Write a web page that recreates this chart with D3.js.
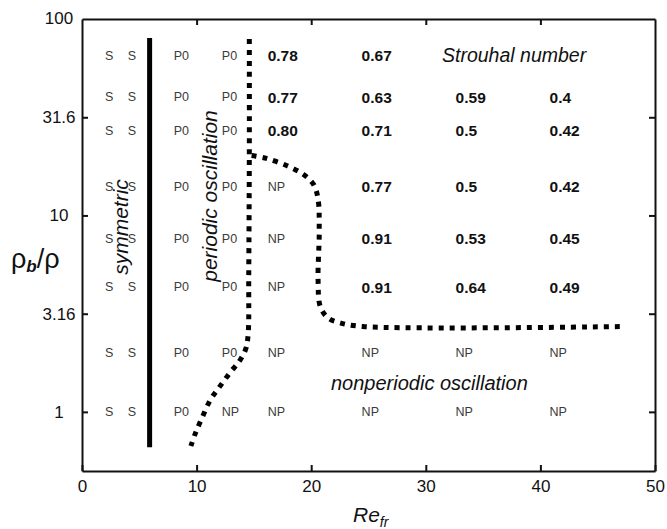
<!DOCTYPE html>
<html>
<head>
<meta charset="utf-8">
<script src="https://cdn.jsdelivr.net/npm/d3@7"></script>
<style>
	body { margin: 0; background: #fff; }
	svg { font-family: "Liberation Sans", Arial, sans-serif; }
</style>
</head>
<body>
<div class="chart"></div>
<script>

// density ratio rows (y) and Re columns (x, left edge of each label)
const rowRatios = [65, 40, 27, 14, 7.6, 4.3, 2, 1];
const colRe = [2, 4, 8, 12.2, 16.2, 24.4, 32.6, 40.8];

// state / Strouhal number at each grid point, top row first
const cellLabels = [
	['S','S','P0','P0','0.78','0.67','',''],
	['S','S','P0','P0','0.77','0.63','0.59','0.4'],
	['S','S','P0','P0','0.80','0.71','0.5','0.42'],
	['S','S','P0','P0','NP','0.77','0.5','0.42'],
	['S','S','P0','P0','NP','0.91','0.53','0.45'],
	['S','S','P0','P0','NP','0.91','0.64','0.49'],
	['S','S','P0','P0','NP','NP','NP','NP'],
	['S','S','P0','NP','NP','NP','NP','NP']
];

// boundary between symmetric and periodic
const symBoundary = [[5.9, 80], [5.9, 0.66]];

// periodic / nonperiodic boundaries (dotted)
const leftBoundary = [
	[14.6, 79], [14.6, 20], [14.55, 5], [14.5, 2.5], [14.3, 2.1], [13.7, 1.8],
	[12.9, 1.58], [12.0, 1.34], [11.2, 1.15], [10.5, 0.94], [9.9, 0.78], [9.5, 0.67]
];
const rightBoundary = [
	[14.8, 20.2], [16.1, 19.5], [17.9, 17.9], [19.3, 16.2], [20.2, 14.4], [20.6, 12.1],
	[20.7, 8.2], [20.6, 4.7], [20.8, 3.43], [21.5, 3.0], [22.5, 2.84], [24.5, 2.72],
	[47.4, 2.72]
];

const xTicks = [0, 10, 20, 30, 40, 50];
const yTicks = [1, 3.16, 10, 31.6, 100];
const yTickLabels = ['1', '3.16', '10', '31.6', '100'];

const W = 667, H = 529;
const margin = {l: 82, r: 12, t: 19, b: 58};
const w = W - margin.l - margin.r;
const h = H - margin.t - margin.b;

const svg = d3.select('.chart').append('svg')
	.attr('width', W)
	.attr('height', H);

const g = svg.append('g')
	.attr('transform', `translate(${margin.l},${margin.t})`);

const scaleX = d3.scaleLinear().domain([0, 50]).range([0, w]);
const scaleY = d3.scaleLog().domain([0.5, 100]).range([h, 0]);

//axes, ticks pointing inward
const axisBottom = d3.axisBottom(scaleX).tickValues(xTicks).tickSizeInner(-6).tickSizeOuter(0);
const axisTop = d3.axisTop(scaleX).tickValues(xTicks.slice(1, -1)).tickSizeInner(-6).tickSizeOuter(0).tickFormat('');
const axisLeft = d3.axisLeft(scaleY).tickValues(yTicks.slice(0, -1)).tickSizeInner(-6).tickSizeOuter(0)
	.tickFormat((d, i) => yTickLabels[i]);
const axisRight = d3.axisRight(scaleY).tickValues(yTicks.slice(0, -1)).tickSizeInner(-6).tickSizeOuter(0).tickFormat('');

function styleAxis(sel){
	sel.select('.domain').attr('stroke', '#111').attr('stroke-width', 2);
	sel.selectAll('.tick line').attr('stroke', '#111').attr('stroke-width', 2);
	sel.selectAll('.tick text').attr('fill', '#111').style('font-size', '17px');
}

g.append('g').attr('transform', `translate(0,${h})`).call(axisBottom).call(styleAxis)
	.selectAll('.tick text').attr('y', 9);
g.append('g').call(axisTop).call(styleAxis);
g.append('g').call(axisLeft).call(styleAxis)
	.selectAll('.tick text').attr('x', -23).attr('text-anchor', 'middle');
g.append('g').attr('transform', `translate(${w},0)`).call(axisRight).call(styleAxis);

// "100" label at top of y axis
g.append('text')
	.attr('x', -23).attr('y', scaleY(100)).attr('dy', '0.32em')
	.attr('text-anchor', 'middle')
	.style('font-size', '17px').attr('fill', '#111')
	.text(yTickLabels[yTicks.length - 1]);

//grid labels
rowRatios.forEach((r, i) => {
	cellLabels[i].forEach((lab, j) => {
		if(!lab) return;
		const isNum = /^\d/.test(lab);
		g.append('text')
			.attr('x', scaleX(colRe[j]))
			.attr('y', scaleY(r))
			.attr('dominant-baseline', 'central')
			.style('font-size', isNum ? '15.5px' : '12.5px')
			.style('font-weight', isNum ? 'bold' : 'normal')
			.attr('fill', isNum ? '#111' : '#3a3a3a')
			.text(lab);
	});
});

//boundaries
const line = d3.line()
	.x(d => scaleX(d[0]))
	.y(d => scaleY(d[1]));
const curve = d3.line()
	.x(d => scaleX(d[0]))
	.y(d => scaleY(d[1]))
	.curve(d3.curveCatmullRom);

g.append('path')
	.attr('d', line(symBoundary))
	.attr('stroke', '#000')
	.attr('stroke-width', 5)
	.attr('fill', 'none');

[leftBoundary, rightBoundary].forEach(pts => {
	g.append('path')
		.attr('d', curve(pts))
		.attr('stroke', '#000')
		.attr('stroke-width', 5)
		.attr('stroke-dasharray', '5,6')
		.attr('fill', 'none');
});

//region labels
g.append('text')
	.attr('transform', `translate(${128 - margin.l},${227 - margin.t}) rotate(-90)`)
	.attr('text-anchor', 'middle')
	.style('font-size', '21px').style('font-style', 'italic')
	.attr('fill', '#111')
	.text('symmetric');
g.append('text')
	.attr('transform', `translate(${217 - margin.l},${196 - margin.t}) rotate(-90)`)
	.attr('text-anchor', 'middle')
	.style('font-size', '21px').style('font-style', 'italic')
	.attr('fill', '#111')
	.text('periodic oscillation');
g.append('text')
	.attr('x', 442 - margin.l).attr('y', 62 - margin.t)
	.style('font-size', '19.5px').style('font-style', 'italic')
	.attr('fill', '#111')
	.text('Strouhal number');
g.append('text')
	.attr('x', 331 - margin.l).attr('y', 390 - margin.t)
	.style('font-size', '20px').style('font-style', 'italic')
	.attr('fill', '#111')
	.text('nonperiodic oscillation');

//axis titles
const yTitle = svg.append('text')
	.attr('x', 11).attr('y', 268)
	.style('font-size', '27px')
	.attr('fill', '#111');
yTitle.append('tspan').text('ρ');
yTitle.append('tspan').attr('dy', 4).style('font-size', '17px')
	.style('font-style', 'italic').style('font-weight', 'bold').text('b');
yTitle.append('tspan').attr('dy', -4).text('/ρ');

const xTitle = svg.append('text')
	.attr('x', 353).attr('y', 522)
	.style('font-size', '21px').style('font-style', 'italic')
	.attr('fill', '#111');
xTitle.append('tspan').text('Re');
xTitle.append('tspan').attr('dy', 5).style('font-size', '14px').text('fr');

</script>
</body>
</html>
